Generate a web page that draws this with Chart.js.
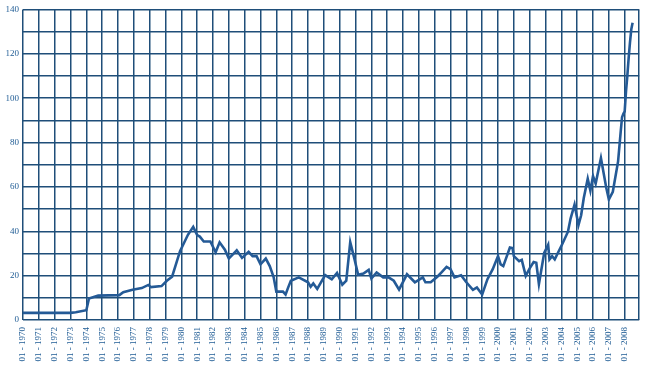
<!DOCTYPE html>
<html>
<head>
<meta charset="utf-8">
<script src="https://cdn.jsdelivr.net/npm/chart.js@4"></script>
<style>
  html, body { margin: 0; padding: 0; background: #ffffff; }
  #wrap { width: 657px; height: 374px; }
</style>
</head>
<body>
<div id="wrap"><canvas id="chart" width="657" height="374"></canvas></div>
<script>
const months = [
    "1970-01", "1973-01", "1973-05", "1974-01", "1974-03", "1974-10", "1976-02", "1976-05",
    "1976-12", "1977-07", "1977-12", "1978-02", "1978-10", "1979-02", "1979-06", "1979-12",
    "1980-06", "1980-10", "1981-01", "1981-03", "1981-06", "1981-11", "1982-03", "1982-06",
    "1982-10", "1983-01", "1983-07", "1983-11", "1984-04", "1984-07", "1984-10", "1985-01",
    "1985-05", "1985-08", "1985-11", "1986-01", "1986-06", "1986-08", "1986-10", "1986-12",
    "1987-06", "1988-01", "1988-03", "1988-05", "1988-08", "1989-02", "1989-07", "1989-11",
    "1990-03", "1990-06", "1990-09", "1990-12", "1991-03", "1991-07", "1991-11", "1992-01",
    "1992-05", "1992-10", "1993-02", "1993-06", "1993-10", "1994-04", "1994-10", "1995-04",
    "1995-06", "1995-10", "1996-03", "1996-06", "1996-10", "1997-01", "1997-04", "1997-09",
    "1998-01", "1998-06", "1998-09", "1999-01", "1999-05", "1999-09", "2000-01", "2000-03",
    "2000-05", "2000-10", "2000-12", "2001-01", "2001-05", "2001-07", "2001-10", "2002-01",
    "2002-04", "2002-06", "2002-08", "2002-12", "2003-03", "2003-04", "2003-06", "2003-08",
    "2003-11", "2004-02", "2004-06", "2004-08", "2004-11", "2005-02", "2005-04", "2005-06",
    "2005-09", "2005-11", "2006-01", "2006-03", "2006-07", "2006-11", "2007-01", "2007-04",
    "2007-08", "2007-10", "2007-11", "2007-12", "2008-01", "2008-02", "2008-03", "2008-04",
    "2008-05", "2008-06", "2008-07"
];
const prices = [
    3.2, 3.2, 3.5, 4.4, 9.7, 11.0, 11.2, 12.5,
    13.6, 14.4, 15.8, 14.8, 15.3, 17.7, 19.5, 31.0,
    38.4, 42.0, 38.3, 37.6, 35.4, 35.4, 30.5, 35.0,
    31.7, 27.7, 31.4, 28.0, 30.7, 28.8, 28.8, 25.1,
    27.7, 24.3, 19.2, 12.8, 12.8, 11.5, 14.7, 17.7,
    19.2, 17.0, 15.0, 16.5, 14.0, 20.2, 18.3, 21.2,
    15.9, 17.7, 35.1, 28.0, 20.4, 20.9, 22.6, 18.7,
    21.4, 19.2, 19.2, 17.7, 13.7, 20.6, 17.0, 19.2,
    17.0, 17.0, 19.5, 21.4, 23.9, 22.9, 19.2, 20.2,
    17.0, 13.6, 14.7, 11.5, 18.4, 22.9, 28.8, 25.1,
    24.3, 32.7, 32.4, 28.8, 26.5, 27.1, 19.9, 23.3,
    26.1, 25.8, 16.2, 30.2, 33.9, 27.3, 28.8, 27.3,
    31.0, 34.6, 39.8, 45.7, 52.0, 42.8, 47.2, 55.0,
    63.7, 58.3, 64.9, 61.5, 73.0, 59.7, 54.3, 57.8,
    71.5, 85.0, 91.4, 92.9, 94.0, 103.0, 110.0, 118.0,
    125.0, 131.0, 134.0
];
const firstYear = 1970;
const lastYear = 2008;
const yTickStep = 10;
const yLabelStep = 20;

const years = [];
for (let y = firstYear; y <= lastYear; y++) years.push(y);
const xMax = lastYear + 11 / 12;

const points = months.map((m, i) => {
    const [yr, mo] = m.split("-").map(Number);
    return { x: yr + (mo - 1) / 12, y: prices[i] };
});

const gridColor = "#1f4e79";
const textColor = "#1e5b94";
const font = { family: "'Liberation Serif', 'DejaVu Serif', serif", size: 9 };

new Chart(document.getElementById("chart"), {
    type: "line",
    data: {
        datasets: [
            {
                data: points,
                borderColor: "#245a96",
                borderWidth: 2.6,
                pointRadius: 0,
                tension: 0,
                fill: false
            }
        ]
    },
    options: {
        responsive: false,
        animation: false,
        layout: { padding: { top: 4, right: 13, left: 0, bottom: 0 } },
        plugins: {
            legend: { display: false },
            title: { display: false },
            tooltip: { enabled: false }
        },
        scales: {
            x: {
                type: "linear",
                min: firstYear,
                max: xMax,
                afterBuildTicks: (scale) => {
                    scale.ticks = years.map(v => ({ value: v })).concat([{ value: xMax }]);
                },
                afterFit: (scale) => { scale.height = 54; },
                border: { display: false },
                grid: { color: gridColor, lineWidth: 1.5, drawTicks: false },
                ticks: {
                    autoSkip: false,
                    maxRotation: 90,
                    minRotation: 90,
                    padding: 7,
                    color: textColor,
                    font: font,
                    callback: (v) => Number.isInteger(v) ? "01 - " + v : ""
                }
            },
            y: {
                min: 0,
                max: 140,
                afterFit: (scale) => { scale.width = 23; },
                border: { display: false },
                grid: { color: gridColor, lineWidth: 1.5, drawTicks: false },
                ticks: {
                    stepSize: yTickStep,
                    padding: 4,
                    color: textColor,
                    font: font,
                    callback: (v) => v % yLabelStep === 0 ? v : ""
                }
            }
        }
    }
});
</script>
</body>
</html>
